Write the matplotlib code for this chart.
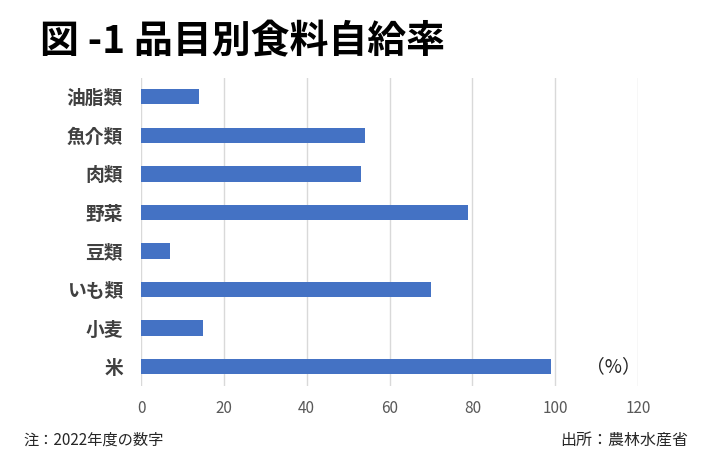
import matplotlib
matplotlib.use("Agg")
import matplotlib.pyplot as plt

plt.rcParams['font.family'] = ['Noto Sans CJK JP', 'DejaVu Sans']

# 品目別食料自給率（%）
categories = ["米", "小麦", "いも類", "豆類", "野菜", "肉類", "魚介類", "油脂類"]
values = [99, 15, 70, 7, 79, 53, 54, 14]
xticks = [0, 20, 40, 60, 80, 100, 120]

title = "図 -1 品目別食料自給率"
note = "注：2022年度の数字"
source = "出所：農林水産省"
unit = "（%）"

fig = plt.figure(figsize=(7.11, 4.65), dpi=100)
ax = fig.add_axes([141 / 711, 1 - 386 / 465, (638 - 141) / 711, (386 - 77.5) / 465])

ypos = list(range(len(categories)))
ax.barh(ypos, values, height=0.4, color="#4472C4", zorder=3)

ax.set_xlim(0, 120)
ax.set_ylim(-0.5, len(categories) - 0.5)
ax.set_xticks(xticks)
ax.set_xticklabels([str(t) for t in xticks], fontsize=11, color="#595959")
ax.set_yticks(ypos)
ax.set_yticklabels(categories, fontsize=13.5, color="#404040", fontweight="bold")
ax.tick_params(axis="both", length=0)
ax.tick_params(axis="x", pad=10)
ax.tick_params(axis="y", pad=13)
ax.grid(axis="x", color="#D9D9D9", linewidth=1, zorder=0)
for s in ax.spines.values():
    s.set_visible(False)

ax.text(114, 0, unit, fontsize=13.5, color="#262626", ha="center", va="center")

fig.text(40 / 711, 1 - 42 / 465, title, fontsize=28, fontweight="bold",
         color="#000000", ha="left", va="center")
fig.text(23 / 711, 1 - 440 / 465, note, fontsize=11, color="#262626",
         ha="left", va="center")
fig.text(688 / 711, 1 - 441 / 465, source, fontsize=11.5, color="#262626",
         ha="right", va="center")

fig.savefig("out.png", dpi=100)
